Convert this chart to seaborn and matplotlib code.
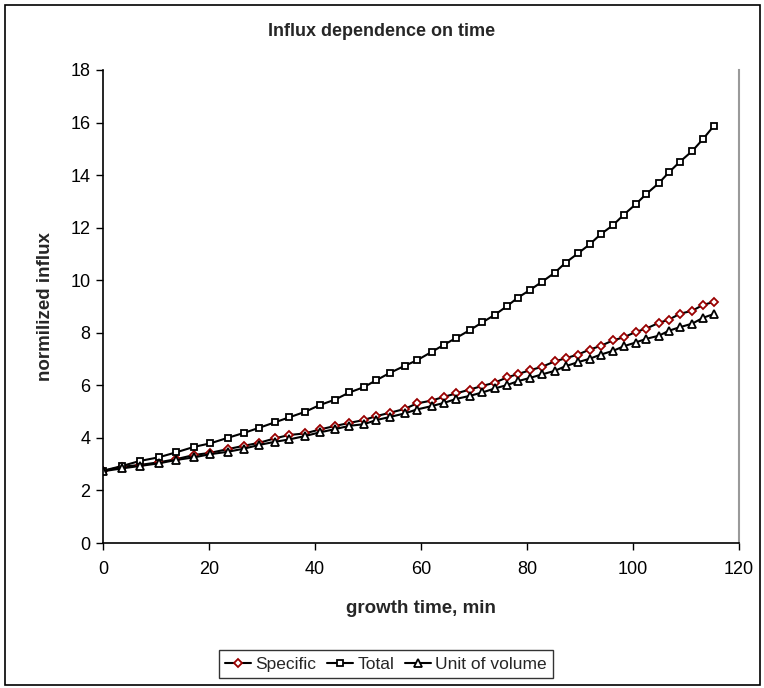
import numpy as np
import pandas as pd
import matplotlib
matplotlib.use("Agg")
import matplotlib.pyplot as plt
from matplotlib.patches import Rectangle
import seaborn as sns

# Data
growth_time = [0, 3.6, 6.9, 10.5, 13.8, 17.2, 20.2, 23.5, 26.6, 29.4,
               32.4, 35.1, 38.1, 40.9, 43.7, 46.5, 49.2, 51.6, 54.2, 56.9,
               59.2, 62.0, 64.3, 66.6, 69.2, 71.6, 73.9, 76.2, 78.3, 80.5,
               82.9, 85.2, 87.3, 89.6, 91.8, 93.9, 96.2, 98.3, 100.5, 102.5,
               104.9, 106.8, 108.8, 111.2, 113.2, 115.2]

specific = [2.74, 2.90, 2.97, 3.07, 3.19, 3.35, 3.43, 3.57, 3.70, 3.81,
            3.98, 4.11, 4.17, 4.32, 4.45, 4.57, 4.68, 4.83, 4.96, 5.10,
            5.31, 5.42, 5.56, 5.69, 5.84, 5.98, 6.10, 6.30, 6.43, 6.57,
            6.71, 6.91, 7.03, 7.17, 7.36, 7.50, 7.71, 7.83, 8.03, 8.16,
            8.38, 8.50, 8.72, 8.84, 9.06, 9.17]

total = [2.75, 2.93, 3.12, 3.26, 3.45, 3.66, 3.79, 4.00, 4.19, 4.38,
         4.59, 4.78, 4.99, 5.25, 5.45, 5.73, 5.93, 6.20, 6.48, 6.74,
         6.95, 7.27, 7.54, 7.80, 8.10, 8.40, 8.68, 9.01, 9.34, 9.62,
         9.95, 10.28, 10.67, 11.02, 11.36, 11.75, 12.09, 12.50, 12.89, 13.28,
         13.70, 14.11, 14.50, 14.92, 15.37, 15.86]

unit_of_volume = [2.73, 2.84, 2.93, 3.03, 3.16, 3.26, 3.38, 3.47, 3.59, 3.73,
                  3.85, 3.94, 4.07, 4.21, 4.33, 4.46, 4.52, 4.68, 4.80, 4.93,
                  5.08, 5.21, 5.33, 5.48, 5.60, 5.73, 5.88, 6.01, 6.16, 6.28,
                  6.42, 6.55, 6.73, 6.88, 7.01, 7.17, 7.31, 7.49, 7.63, 7.77,
                  7.89, 8.08, 8.21, 8.35, 8.57, 8.71]

series_names = ["Specific", "Total", "Unit of volume"]
series_values = [specific, total, unit_of_volume]
series_markers = ["D", "s", "^"]
series_edge = ["#990000", "black", "black"]
series_msize = [4.4, 5.0, 5.4]

sns.set_style("white")
plt.rcParams["font.family"] = ["Liberation Sans", "DejaVu Sans"]

fig = plt.figure(figsize=(7.64, 6.88), dpi=100)
ax = fig.add_axes([103 / 764, 1 - 543 / 688, (739 - 103) / 764, (543 - 70) / 688])

for name, vals, mk, ec, ms in zip(series_names, series_values, series_markers,
                                  series_edge, series_msize):
    df = pd.DataFrame({"t": growth_time, "v": vals})
    sns.lineplot(data=df, x="t", y="v", ax=ax, color="black", linewidth=1.5,
                 marker=mk, markersize=ms, markerfacecolor="white",
                 markeredgecolor=ec, markeredgewidth=1.3, label=name,
                 legend=False)

ax.set_xlim(0, 120)
ax.set_ylim(0, 18)
ax.set_xticks(np.arange(0, 121, 20))
ax.set_yticks(np.arange(0, 19, 2))
ax.tick_params(axis="both", direction="out", length=5, width=1, color="black",
               labelsize=13, labelcolor="black", bottom=True, left=True, pad=4)
ax.tick_params(axis="x", pad=8)

for side in ["left", "bottom"]:
    ax.spines[side].set_color("black")
    ax.spines[side].set_linewidth(1.2)
ax.spines["top"].set_visible(False)
ax.spines["right"].set_color("#9a9a9a")
ax.spines["right"].set_linewidth(1.5)

ax.set_xlabel("growth time, min", fontsize=13.5, fontweight="bold", labelpad=16)
ax.set_ylabel("normilized influx", fontsize=13.5, fontweight="bold", labelpad=12)
fig.text(0.5, 1 - 31 / 688, "Influx dependence on time", ha="center", va="center",
         fontsize=13, fontweight="bold")

handles, labels = ax.get_legend_handles_labels()
leg = fig.legend(handles, labels, loc="center", bbox_to_anchor=(386 / 764, 1 - 664 / 688),
                 ncol=3, fontsize=12.5, frameon=True, fancybox=False, edgecolor="black",
                 handlelength=1.5, handletextpad=0.25, columnspacing=0.6,
                 borderpad=0.35, borderaxespad=0)
leg.get_frame().set_linewidth(1.0)

# outer chart border
fig.patches.append(Rectangle((5 / 764, 3 / 688), 755 / 764, 680 / 688,
                             transform=fig.transFigure, fill=False,
                             edgecolor="black", linewidth=1.2))

fig.savefig("out.png", dpi=100)
